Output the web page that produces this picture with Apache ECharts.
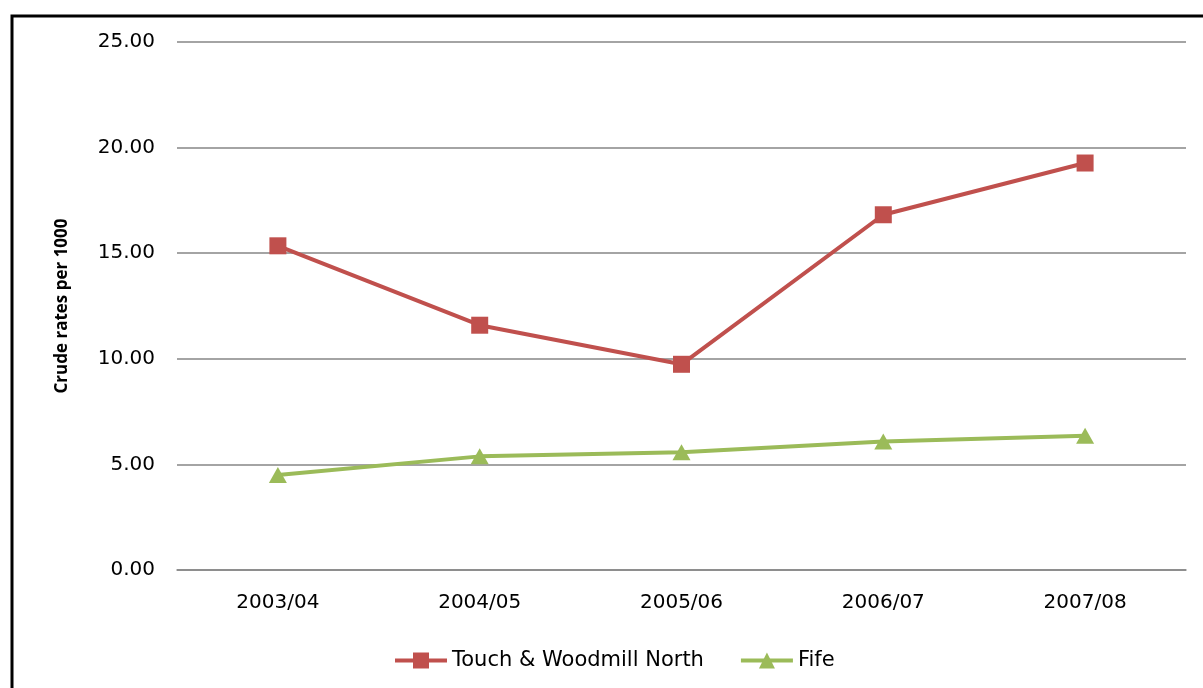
<!DOCTYPE html>
<html>
<head>
<meta charset="utf-8">
<script src="https://cdn.jsdelivr.net/npm/echarts@6/dist/echarts.min.js"></script>
<style>
html,body{margin:0;padding:0;background:#fff;}
#chart{width:1203px;height:688px;}
</style>
</head>
<body>
<div id="chart"></div>
<script>
var categories = ['2003/04', '2004/05', '2005/06', '2006/07', '2007/08'];
var touchWoodmill = [15.35, 11.59, 9.74, 16.82, 19.27];
var fife = [4.50, 5.38, 5.57, 6.08, 6.36];
var seriesNames = ['Touch & Woodmill North', 'Fife'];
var yAxisTitle = 'Crude rates per 1000';

var chart = echarts.init(document.getElementById('chart'));
var font = 'DejaVu Sans';
chart.setOption({
  animation: false,
  backgroundColor: '#ffffff',
  graphic: [{
    type: 'rect',
    shape: { x: 12, y: 16, width: 1400, height: 900 },
    style: { fill: 'none', stroke: '#000', lineWidth: 3 },
    silent: true
  }],
  grid: { left: 177, right: 17, top: 42, bottom: 118 },
  legend: {
    bottom: 12,
    left: 388,
    itemWidth: 52,
    itemHeight: 20,
    itemGap: 35,
    lineStyle: { width: 4 },
    textStyle: { fontFamily: font, fontSize: 21, color: '#000' },
    data: seriesNames
  },
  xAxis: {
    type: 'category',
    data: categories,
    boundaryGap: true,
    axisLine: { show: true, lineStyle: { color: '#868686', width: 1.5 } },
    axisTick: { show: false },
    axisLabel: { fontFamily: font, fontSize: 20, color: '#000', margin: 23 }
  },
  yAxis: {
    type: 'value',
    min: 0, max: 25, interval: 5,
    name: yAxisTitle,
    nameLocation: 'middle',
    nameGap: 106,
    nameRotate: 90,
    nameTextStyle: { fontFamily: 'Open Sans', fontWeight: 'bold', fontSize: 17, color: '#000' },
    axisLine: { show: false },
    axisTick: { show: false },
    splitLine: { lineStyle: { color: '#868686', width: 1.5 } },
    axisLabel: {
      fontFamily: font, fontSize: 20, color: '#000', margin: 22,
      formatter: function (v) { return v.toFixed(2); }
    }
  },
  series: [
    {
      name: seriesNames[0],
      type: 'line',
      data: touchWoodmill,
      symbol: 'rect',
      symbolSize: 17,
      lineStyle: { color: '#C0504D', width: 4 },
      itemStyle: { color: '#C0504D' }
    },
    {
      name: seriesNames[1],
      type: 'line',
      data: fife,
      symbol: 'triangle',
      symbolSize: [18, 16],
      lineStyle: { color: '#9BBB59', width: 4 },
      itemStyle: { color: '#9BBB59' }
    }
  ]
});
</script>
</body>
</html>
